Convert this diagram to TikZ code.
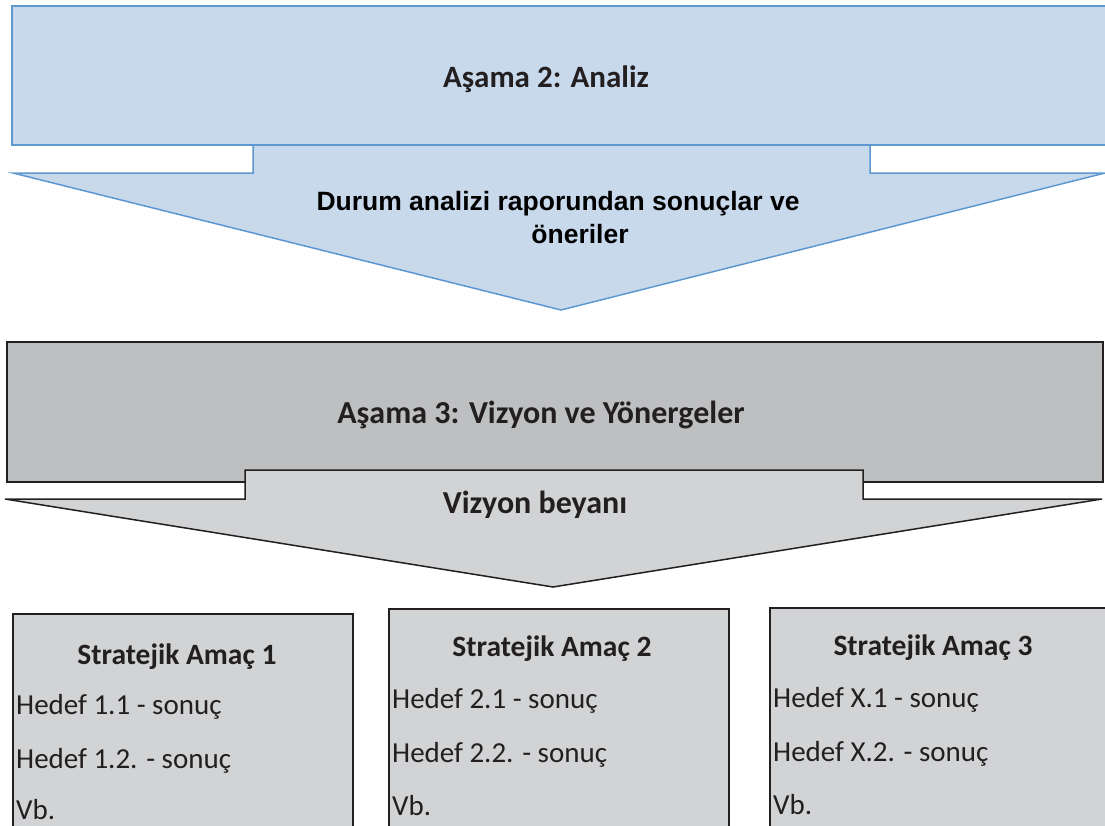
\documentclass[tikz,border=0pt]{standalone}
\usepackage{fontspec}
\setmainfont{Carlito}
\newfontfamily\arialfont{Liberation Sans}

\definecolor{bluefill}{HTML}{C9D9EC}
\definecolor{blueline}{HTML}{5E98D0}
\definecolor{grayband}{HTML}{BEBFC1}
\definecolor{graylight}{HTML}{D1D3D4}
\definecolor{darkline}{HTML}{231F20}

\begin{document}
\begin{tikzpicture}[x=1pt,y=-1pt,
  bluepart/.style={draw=blueline,fill=bluefill,line width=1.5pt},
  graypart/.style={draw=darkline,line width=1.5pt},
  phase/.style={anchor=base,inner sep=0pt,text=darkline,font=\bfseries\fontsize{32}{38}\selectfont},
  goal/.style={anchor=base,inner sep=0pt,text=darkline,font=\bfseries\fontsize{29.5}{35}\selectfont},
  target/.style={anchor=base west,inner sep=0pt,text=darkline,font=\fontsize{29}{35}\selectfont}]
\useasboundingbox (0,0) rectangle (1105,825);
\clip (0,0) rectangle (1105,825);

% Asama 2
\draw[bluepart] (253,145) -- (253,173) -- (13,173) -- (561,310) -- (1105,173) -- (870,173) -- (870,145) -- cycle;
\draw[bluepart] (12,6) rectangle (1120,145);

\node[phase,font=\bfseries\fontsize{31}{37}\selectfont] (analiz) at (546,87) {Aşama 2: Analiz};
\node[anchor=base,inner sep=0pt,font=\arialfont\bfseries\fontsize{26.5}{33}\selectfont] (durum1) at (558,210) {Durum analizi raporundan sonuçlar ve};
\node[anchor=base,inner sep=0pt,font=\arialfont\bfseries\fontsize{26.5}{33}\selectfont] (durum2) at (580,243) {öneriler};

% Asama 3
\draw[graypart,fill=grayband] (7,342) rectangle (1103,482);
\draw[graypart,fill=graylight] (245,470) -- (863,470) -- (863,499) -- (1102,499) -- (553,587) -- (5,499) -- (245,499) -- cycle;

\node[phase] (vizyon) at (541,423) {Aşama 3: Vizyon ve Yönergeler};
\node[phase] (beyan) at (535,513) {Vizyon beyanı};

% stratejik amaclar
\draw[graypart,fill=graylight] (13,614) rectangle (353,850);
\draw[graypart,fill=graylight] (389,609) rectangle (729,850);
\draw[graypart,fill=graylight] (770,608) rectangle (1120,850);

\node[goal] (amac1) at (177,664) {Stratejik Amaç 1};
\node[target] (h11) at (16,714) {Hedef 1.1 - sonuç};
\node[target] (h12) at (16,768) {Hedef 1.2. - sonuç};
\node[target] (vb1) at (16,819) {Vb.};

\node[goal] (amac2) at (552,656) {Stratejik Amaç 2};
\node[target] (h21) at (392,708) {Hedef 2.1 - sonuç};
\node[target] (h22) at (392,762) {Hedef 2.2. - sonuç};
\node[target] (vb2) at (392,815) {Vb.};

\node[goal] (amac3) at (933,655) {Stratejik Amaç 3};
\node[target] (hx1) at (773,707) {Hedef X.1 - sonuç};
\node[target] (hx2) at (773,761) {Hedef X.2. - sonuç};
\node[target] (vb3) at (773,814) {Vb.};
\end{tikzpicture}
\end{document}
